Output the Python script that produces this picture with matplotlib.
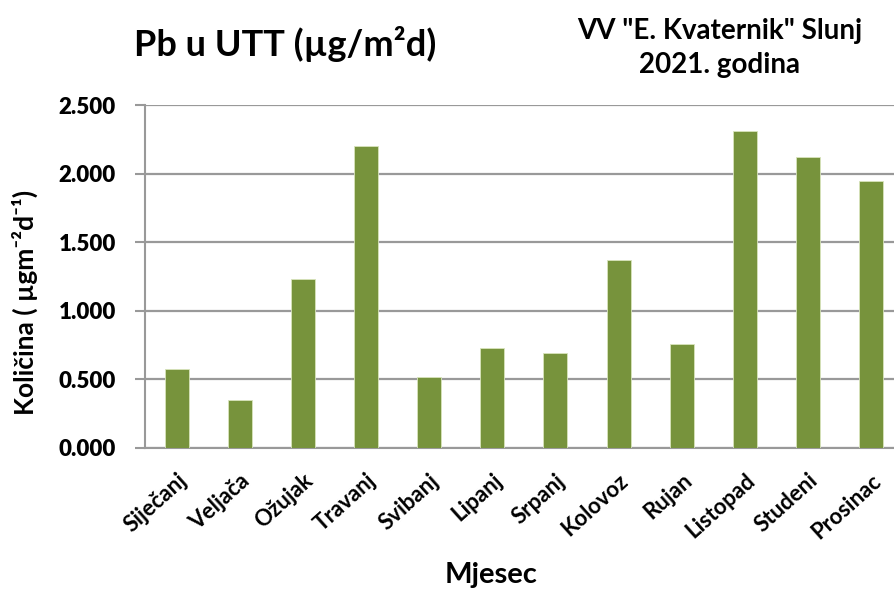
import matplotlib.pyplot as plt
import matplotlib.transforms as mtransforms
from matplotlib.ticker import FuncFormatter

# monthly Pb deposition values
months = ["Siječanj", "Veljača", "Ožujak", "Travanj", "Svibanj", "Lipanj",
          "Srpanj", "Kolovoz", "Rujan", "Listopad", "Studeni", "Prosinac"]
values = [0.572, 0.348, 1.231, 2.204, 0.518, 0.728,
          0.691, 1.368, 0.755, 2.314, 2.124, 1.945]
yticks = [0.0, 0.5, 1.0, 1.5, 2.0, 2.5]

plt.rcParams['font.family'] = ['Lato', 'DejaVu Sans']
plt.rcParams['font.weight'] = 'bold'

fig = plt.figure(figsize=(8.94, 5.9), dpi=100)
ax = fig.add_axes([0.1622, 0.2412, 0.8475, 0.5808])

x = range(len(months))
ax.bar(x, values, width=0.38, color='#77933C', edgecolor='#d8e4bc', linewidth=0.6, zorder=3)

ax.set_xlim(-0.5, len(months) - 0.5)
ax.set_ylim(0, 2.5)
ax.set_yticks(yticks)
ax.yaxis.set_major_formatter(FuncFormatter(lambda v, p: f"{v:.3f}"))
ax.grid(axis='y', color='#999999', linewidth=1.6, zorder=0)

ax.set_xticks(list(x))
ax.set_xticklabels(months, rotation=42, ha='right', va='top', rotation_mode='anchor',
                   fontsize=16, fontweight='bold')
shift = mtransforms.ScaledTranslation(-6 / 100, 0, fig.dpi_scale_trans)
for lbl in ax.get_xticklabels():
    lbl.set_transform(lbl.get_transform() + shift)
ax.tick_params(axis='x', length=0, pad=16)
ax.tick_params(axis='y', labelsize=16, length=7, color='#999999', width=1.5, pad=14)
for lbl in ax.get_yticklabels():
    lbl.set_fontweight('heavy')

for s in ['top', 'right']:
    ax.spines[s].set_visible(False)
for s in ['left', 'bottom']:
    ax.spines[s].set_color('#999999')
    ax.spines[s].set_linewidth(1.5)

fig.text(0.028, 0.487, "Količina ( µgm⁻²d⁻¹)", fontsize=19, fontweight='bold',
         rotation=90, ha='center', va='center')
fig.text(0.549, 0.025, "Mjesec", fontsize=21, fontweight='bold', ha='center', va='center')

fig.text(0.319, 0.925, "Pb u UTT (µg/m²d)", fontsize=26, fontweight='bold', ha='center', va='center')
fig.text(0.805, 0.948, 'VV "E. Kvaternik" Slunj', fontsize=20, fontweight='bold', ha='center', va='center')
fig.text(0.805, 0.889, '2021. godina', fontsize=20, fontweight='bold', ha='center', va='center')

fig.savefig('out.png', dpi=100)
